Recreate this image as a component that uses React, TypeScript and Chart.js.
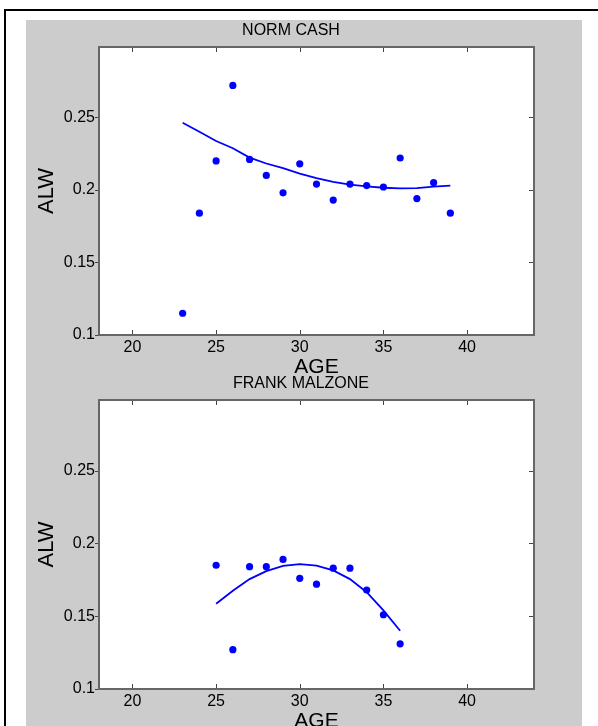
import React, { useEffect, useRef } from "react";
import { Chart, registerables } from "chart.js";

Chart.register(...registerables);

// ---- data ----
const xTicks = [20, 25, 30, 35, 40];
const yTicks = [0.1, 0.15, 0.2, 0.25];
const X_MIN = 18;
const X_MAX = 44;
const Y_MIN = 0.1;
const Y_MAX = 0.2985;

const cashAges = [23, 24, 25, 26, 27, 28, 29, 30, 31, 32, 33, 34, 35, 36, 37, 38, 39];
const cashALW = [0.115, 0.184, 0.22, 0.272, 0.221, 0.21, 0.198, 0.218, 0.204, 0.193, 0.204, 0.203, 0.202, 0.222, 0.194, 0.205, 0.184];
const cashFit = [0.2463, 0.2401, 0.2337, 0.2287, 0.2223, 0.2182, 0.215, 0.2113, 0.2082, 0.2056, 0.2036, 0.2024, 0.2015, 0.201, 0.2013, 0.2022, 0.2029];

const malzoneAges = [25, 26, 27, 28, 29, 30, 31, 32, 33, 34, 35, 36];
const malzoneALW = [0.185, 0.127, 0.184, 0.184, 0.189, 0.176, 0.172, 0.183, 0.183, 0.168, 0.151, 0.131];
const malzoneFit = [0.1585, 0.1675, 0.1755, 0.181, 0.1845, 0.1857, 0.1848, 0.1815, 0.1755, 0.1665, 0.154, 0.14];

const FONT = "'Liberation Sans', Arial, Helvetica, sans-serif";
const BLUE = "#0000ff";

type PanelProps = {
  title: string;
  titleX: number;
  ages: number[];
  values: number[];
  fit: number[];
  top: number;
  height: number;
  padTop: number;
  xAxisH: number;
};

function Panel(props: PanelProps) {
  const ref = useRef<HTMLCanvasElement | null>(null);
  useEffect(() => {
    const canvas = ref.current;
    if (!canvas) return;
    const decor = {
      id: "decor",
      beforeDraw(chart: any) {
        const { ctx, chartArea: a } = chart;
        ctx.save();
        ctx.fillStyle = "#ffffff";
        ctx.fillRect(a.left, a.top, a.right - a.left, a.bottom - a.top);
        ctx.restore();
      },
      afterDraw(chart: any) {
        const { ctx, chartArea: a } = chart;
        const xs = chart.scales.x;
        const ys = chart.scales.y;
        ctx.save();
        // ticks
        ctx.strokeStyle = "#444444";
        ctx.lineWidth = 1;
        ctx.beginPath();
        xTicks.forEach((v) => {
          const px = Math.round(xs.getPixelForValue(v)) + 0.5;
          ctx.moveTo(px, a.bottom);
          ctx.lineTo(px, a.bottom - 5);
          ctx.moveTo(px, a.top);
          ctx.lineTo(px, a.top + 5);
        });
        yTicks.forEach((v) => {
          const py = Math.round(ys.getPixelForValue(v)) + 0.5;
          ctx.moveTo(a.left - 4, py);
          ctx.lineTo(a.left + 1, py);
          ctx.moveTo(a.right, py);
          ctx.lineTo(a.right - 5, py);
        });
        ctx.stroke();
        // box
        ctx.strokeStyle = "#666666";
        ctx.lineWidth = 2;
        ctx.strokeRect(a.left, a.top, a.right - a.left, a.bottom - a.top);
        // texts
        ctx.fillStyle = "#000000";
        ctx.textAlign = "center";
        ctx.textBaseline = "alphabetic";
        ctx.font = `16px ${FONT}`;
        ctx.fillText(props.title, props.titleX, a.top - 12.5);
        ctx.font = `21px ${FONT}`;
        ctx.fillText("AGE", (a.left + a.right) / 2, a.bottom + 37.7);
        ctx.font = `22px ${FONT}`;
        ctx.translate(21, (a.top + a.bottom) / 2);
        ctx.rotate(-Math.PI / 2);
        ctx.textBaseline = "middle";
        ctx.fillText("ALW", 0, 0);
        ctx.restore();
      },
    };
    const chart = new Chart(canvas, {
      type: "scatter",
      data: {
        datasets: [
          {
            data: props.ages.map((a, i) => ({ x: a, y: props.values[i] })),
            backgroundColor: BLUE,
            borderColor: BLUE,
            borderWidth: 0,
            pointRadius: 3.6,
            showLine: false,
          },
          {
            type: "line",
            data: props.ages.map((a, i) => ({ x: a, y: props.fit[i] })),
            borderColor: BLUE,
            borderWidth: 1.8,
            pointRadius: 0,
            tension: 0,
            fill: false,
          } as any,
        ],
      },
      options: {
        responsive: false,
        animation: false,
        events: [],
        layout: { padding: { left: 0, top: props.padTop, right: 48, bottom: 0 } },
        plugins: {
          legend: { display: false },
          tooltip: { enabled: false },
          title: { display: false },
        },
        scales: {
          x: {
            type: "linear",
            position: "bottom",
            min: X_MIN,
            max: X_MAX,
            grid: { display: false, drawTicks: false },
            border: { display: false },
            ticks: {
              padding: 3,
              color: "#000000",
              font: { family: FONT, size: 16 },
              maxRotation: 0,
              autoSkip: false,
              callback: (v: any) => String(v),
            },
            afterBuildTicks: (s: any) => {
              s.ticks = xTicks.map((v) => ({ value: v }));
            },
            afterFit: (s: any) => {
              s.height = props.xAxisH;
            },
          },
          y: {
            type: "linear",
            position: "left",
            min: Y_MIN,
            max: Y_MAX,
            grid: { display: false, drawTicks: false },
            border: { display: false },
            ticks: {
              padding: 4,
              color: "#000000",
              font: { family: FONT, size: 16 },
              autoSkip: false,
              callback: (v: any) => String(v),
            },
            afterBuildTicks: (s: any) => {
              s.ticks = yTicks.map((v) => ({ value: v }));
            },
            afterFit: (s: any) => {
              s.width = 73;
            },
          },
        },
      } as any,
      plugins: [decor],
    });
    return () => chart.destroy();
  }, []);
  return (
    <canvas
      ref={ref}
      width={556}
      height={props.height}
      style={{ position: "absolute", left: 26, top: props.top, width: 556, height: props.height }}
    />
  );
}

export default function App() {
  return (
    <div
      style={{
        position: "absolute",
        left: 0,
        top: 0,
        width: 598,
        height: 726,
        overflow: "hidden",
        background: "#ffffff",
      }}
    >
      <div
        style={{
          position: "absolute",
          left: 4,
          top: 9,
          width: 800,
          height: 900,
          borderLeft: "2px solid #000",
          borderTop: "2px solid #000",
        }}
      />
      <div
        style={{
          position: "absolute",
          left: 26,
          top: 20,
          width: 556,
          height: 720,
          background: "#cccccc",
        }}
      />
      <Panel
        title="NORM CASH"
        titleX={265}
        ages={cashAges}
        values={cashALW}
        fit={cashFit}
        top={20}
        height={372}
        padTop={27}
        xAxisH={57}
      />
      <Panel
        title="FRANK MALZONE"
        titleX={275}
        ages={malzoneAges}
        values={malzoneALW}
        fit={malzoneFit}
        top={372}
        height={354}
        padTop={28}
        xAxisH={37}
      />
    </div>
  );
}
